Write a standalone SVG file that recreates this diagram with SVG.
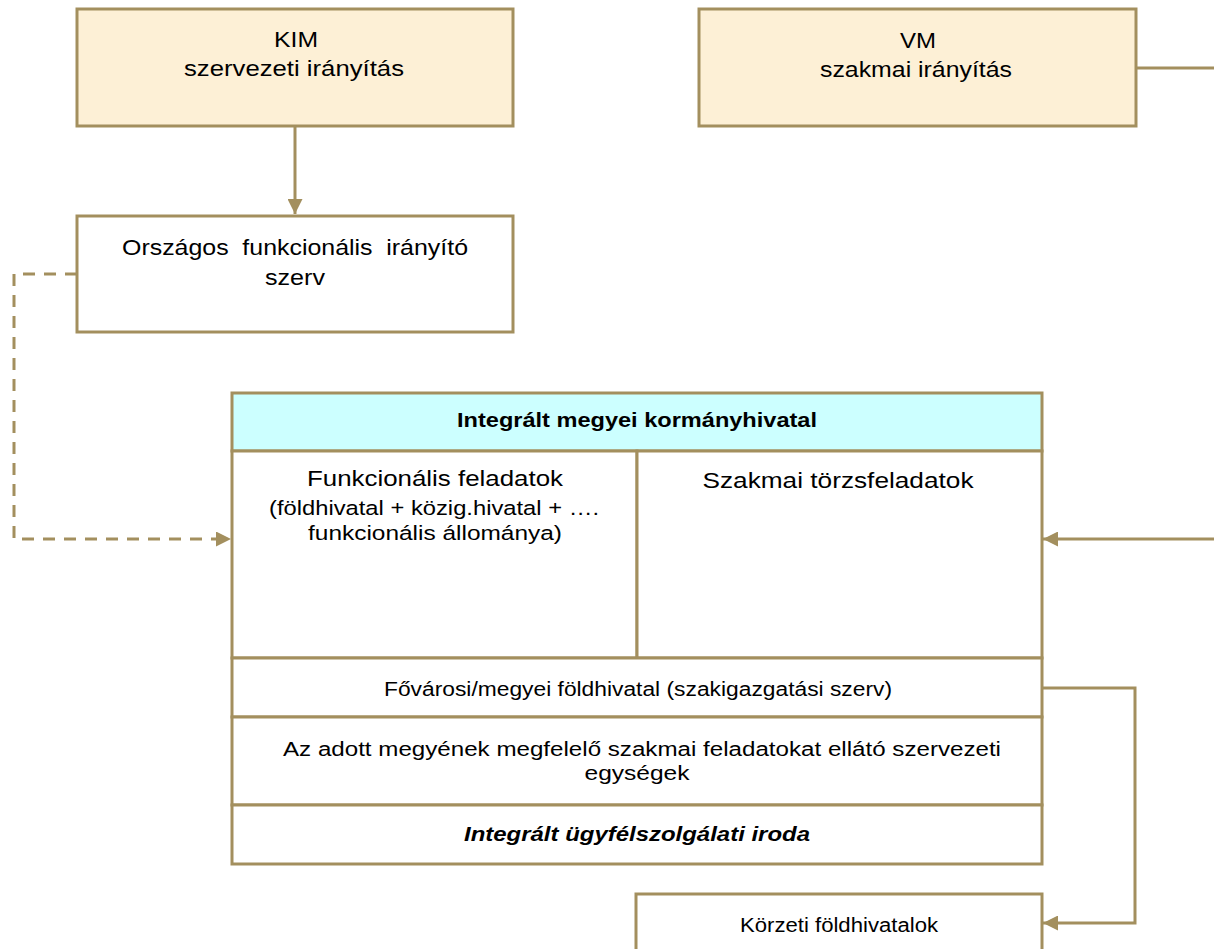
<svg xmlns="http://www.w3.org/2000/svg" width="1214" height="949" viewBox="0 0 1214 949">
<style>
.box{fill:#fff;stroke:#A38F5E;stroke-width:3}
.tan{fill:#FDF0D6;stroke:#A38F5E;stroke-width:3}
.hdr{fill:#CCFFFF;stroke:#A38F5E;stroke-width:3}
.t{font-family:"Liberation Sans",Arial,sans-serif;fill:#000;text-anchor:middle}
.c{fill:none;stroke:#A38F5E;stroke-width:3}
.d{fill:none;stroke:#A38F5E;stroke-width:3;stroke-dasharray:12 9}
</style>
<defs>
<marker id="ah" viewBox="0 0 10 10" refX="10" refY="5" markerWidth="5" markerHeight="5" markerUnits="strokeWidth" orient="auto">
<path d="M0,0L10,5L0,10z" fill="#A38F5E"/>
</marker>
</defs>
<rect width="1214" height="949" fill="#fff"/>
<g id="connectors">
<path class="c" d="M295,127V214" marker-end="url(#ah)"/>
<path class="d" d="M77,274H14V539H231" marker-end="url(#ah)"/>
<path class="c" d="M1136,68H1218V539H1043" marker-end="url(#ah)"/>
<path class="c" d="M1042,688H1135V923H1043" marker-end="url(#ah)"/>
</g>
<g id="kim">
<rect class="tan" x="77" y="9" width="436" height="117"/>
<text class="t" x="296" y="47" font-size="22" textLength="44" lengthAdjust="spacingAndGlyphs">KIM</text>
<text class="t" x="294" y="76" font-size="22" textLength="220" lengthAdjust="spacingAndGlyphs">szervezeti irányítás</text>
</g>
<g id="vm">
<rect class="tan" x="699" y="9" width="437" height="117"/>
<text class="t" x="918" y="48" font-size="22" textLength="36" lengthAdjust="spacingAndGlyphs">VM</text>
<text class="t" x="916" y="77" font-size="22" textLength="192" lengthAdjust="spacingAndGlyphs">szakmai irányítás</text>
</g>
<g id="orszagos">
<rect class="box" x="77" y="216" width="436" height="116"/>
<text class="t" x="295" y="255" font-size="22" word-spacing="6" textLength="346" lengthAdjust="spacingAndGlyphs">Országos funkcionális irányító</text>
<text class="t" x="295" y="285" font-size="22" textLength="60" lengthAdjust="spacingAndGlyphs">szerv</text>
</g>
<g id="kormanyhivatal">
<rect class="hdr" x="232" y="393" width="810" height="58"/>
<text class="t" x="637" y="427" font-size="21" font-weight="bold" textLength="360" lengthAdjust="spacingAndGlyphs">Integrált megyei kormányhivatal</text>
</g>
<g id="funkcionalis">
<rect class="box" x="232" y="451" width="405" height="207"/>
<text class="t" x="435" y="486" font-size="22" textLength="256" lengthAdjust="spacingAndGlyphs">Funkcionális feladatok</text>
<text class="t" x="434" y="515" font-size="20.5" textLength="330" lengthAdjust="spacingAndGlyphs">(földhivatal + közig.hivatal + ….</text>
<text class="t" x="435" y="540" font-size="20.5" textLength="254" lengthAdjust="spacingAndGlyphs">funkcionális állománya)</text>
</g>
<g id="szakmai">
<rect class="box" x="637" y="451" width="405" height="207"/>
<text class="t" x="838" y="488" font-size="22" textLength="271" lengthAdjust="spacingAndGlyphs">Szakmai törzsfeladatok</text>
</g>
<g id="fovarosi">
<rect class="box" x="232" y="658" width="810" height="59"/>
<text class="t" x="638" y="696" font-size="20" textLength="508" lengthAdjust="spacingAndGlyphs">Fővárosi/megyei földhivatal (szakigazgatási szerv)</text>
</g>
<g id="azadott">
<rect class="box" x="232" y="717" width="810" height="88"/>
<text class="t" x="642" y="756" font-size="20" textLength="718" lengthAdjust="spacingAndGlyphs">Az adott megyének megfelelő szakmai feladatokat ellátó szervezeti</text>
<text class="t" x="637" y="780" font-size="20" textLength="105" lengthAdjust="spacingAndGlyphs">egységek</text>
</g>
<g id="ugyfel">
<rect class="box" x="232" y="805" width="810" height="59"/>
<text class="t" x="637" y="841" font-size="20" font-weight="bold" font-style="italic" textLength="346" lengthAdjust="spacingAndGlyphs">Integrált ügyfélszolgálati iroda</text>
</g>
<g id="korzeti">
<rect class="box" x="636" y="894" width="406" height="60"/>
<text class="t" x="839" y="932" font-size="20" textLength="198" lengthAdjust="spacingAndGlyphs">Körzeti földhivatalok</text>
</g>
</svg>
